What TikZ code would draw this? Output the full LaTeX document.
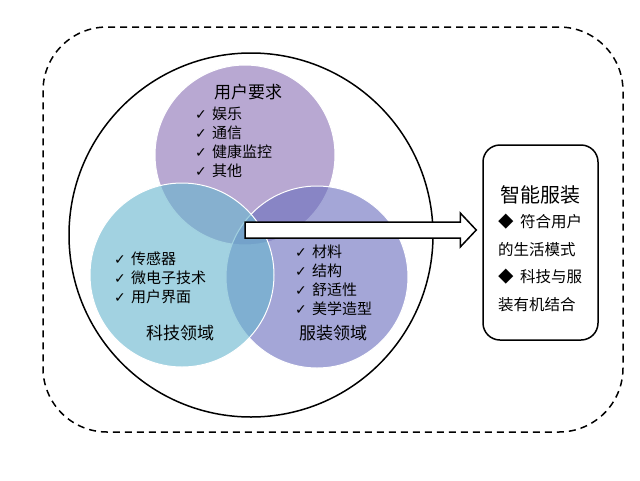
\documentclass[tikz,border=0pt]{standalone}
\usepackage{fontspec}
\newfontfamily\cjk{Noto Sans CJK SC}
\newfontfamily\symf{DejaVu Sans}
\usetikzlibrary{calc}
\definecolor{ctop}{RGB}{140,115,182}
\definecolor{cleft}{RGB}{105,182,206}
\definecolor{cright}{RGB}{108,112,190}
\newcommand{\chk}{\makebox[17pt][l]{\symf\fontsize{14}{14}\selectfont ✓}}
\newcommand{\dia}{\makebox[22pt][l]{\cjk ◆}}
\tikzset{
  venn/.style={circle, inner sep=0pt, draw=white, line width=1pt, fill opacity=0.62, text opacity=1},
  ttl/.style={font=\cjk\fontsize{17}{17}\selectfont, inner sep=0pt},
  itm/.style={font=\cjk\fontsize{15}{15}\selectfont, anchor=west, inner sep=0pt},
  bitm/.style={font=\cjk\fontsize{15.5}{15.5}\selectfont, anchor=west, inner sep=0pt},
}
\begin{document}
\begin{tikzpicture}[x=1pt,y=-1pt]
\useasboundingbox (0,0) rectangle (640,480);
% outer dashed frame
\node[draw, line width=1.5pt, dash pattern=on 7pt off 5pt, rounded corners=64pt,
      minimum width=580pt, minimum height=405pt, inner sep=0pt] (frame) at (333,229.5) {};
% big circle
\node[draw, circle, line width=1.5pt, minimum size=364pt, inner sep=0pt] (big) at (251,235) {};
% venn circles
\node[venn, fill=ctop, minimum size=180pt] (top) at (245,155) {};
\node[venn, fill=cright, minimum size=182pt] (right) at (317,277) {};
\node[venn, fill=cleft, minimum size=184pt] (left) at (182,275) {};
% top texts
\node[ttl] (t0) at (248,92) {用户要求};
\node[itm] (t1) at (195,114) {\chk 娱乐};
\node[itm] (t2) at (195,133) {\chk 通信};
\node[itm] (t3) at (195,152) {\chk 健康监控};
\node[itm] (t4) at (195,171) {\chk 其他};
% left texts
\node[itm] (l1) at (114,259) {\chk 传感器};
\node[itm] (l2) at (114,278) {\chk 微电子技术};
\node[itm] (l3) at (114,297) {\chk 用户界面};
\node[ttl] (l0) at (180,333) {科技领域};
% right texts
\node[itm] (r1) at (295,252) {\chk 材料};
\node[itm] (r2) at (295,271) {\chk 结构};
\node[itm] (r3) at (295,290) {\chk 舒适性};
\node[itm] (r4) at (295,309) {\chk 美学造型};
\node[ttl] (r0) at (333,333) {服装领域};
% right box
\node[draw, line width=1.5pt, rounded corners=17pt, minimum width=115pt, minimum height=195pt, inner sep=0pt] (box) at (540.5,242.5) {};
\node[font=\cjk\fontsize{20}{20}\selectfont, inner sep=0pt] (b0) at (540,195) {智能服装};
\node[bitm] (b1) at (498,222) {\dia 符合用户};
\node[bitm] (b2) at (498,250) {的生活模式};
\node[bitm] (b3) at (498,277) {\dia 科技与服};
\node[bitm] (b4) at (498,305) {装有机结合};
% block arrow
\coordinate (as) at (245,230);
\coordinate (ae) at ($(box.west)+(-6,-12.5)$);
\draw[line width=1.5pt, fill=white, line join=miter]
  ($(as)+(0,-8)$) -- ($(ae)+(-16,-8)$) -- ($(ae)+(-16,-17)$) -- (ae)
  -- ($(ae)+(-16,17)$) -- ($(ae)+(-16,8)$) -- ($(as)+(0,8)$) -- cycle;
\end{tikzpicture}
\end{document}
